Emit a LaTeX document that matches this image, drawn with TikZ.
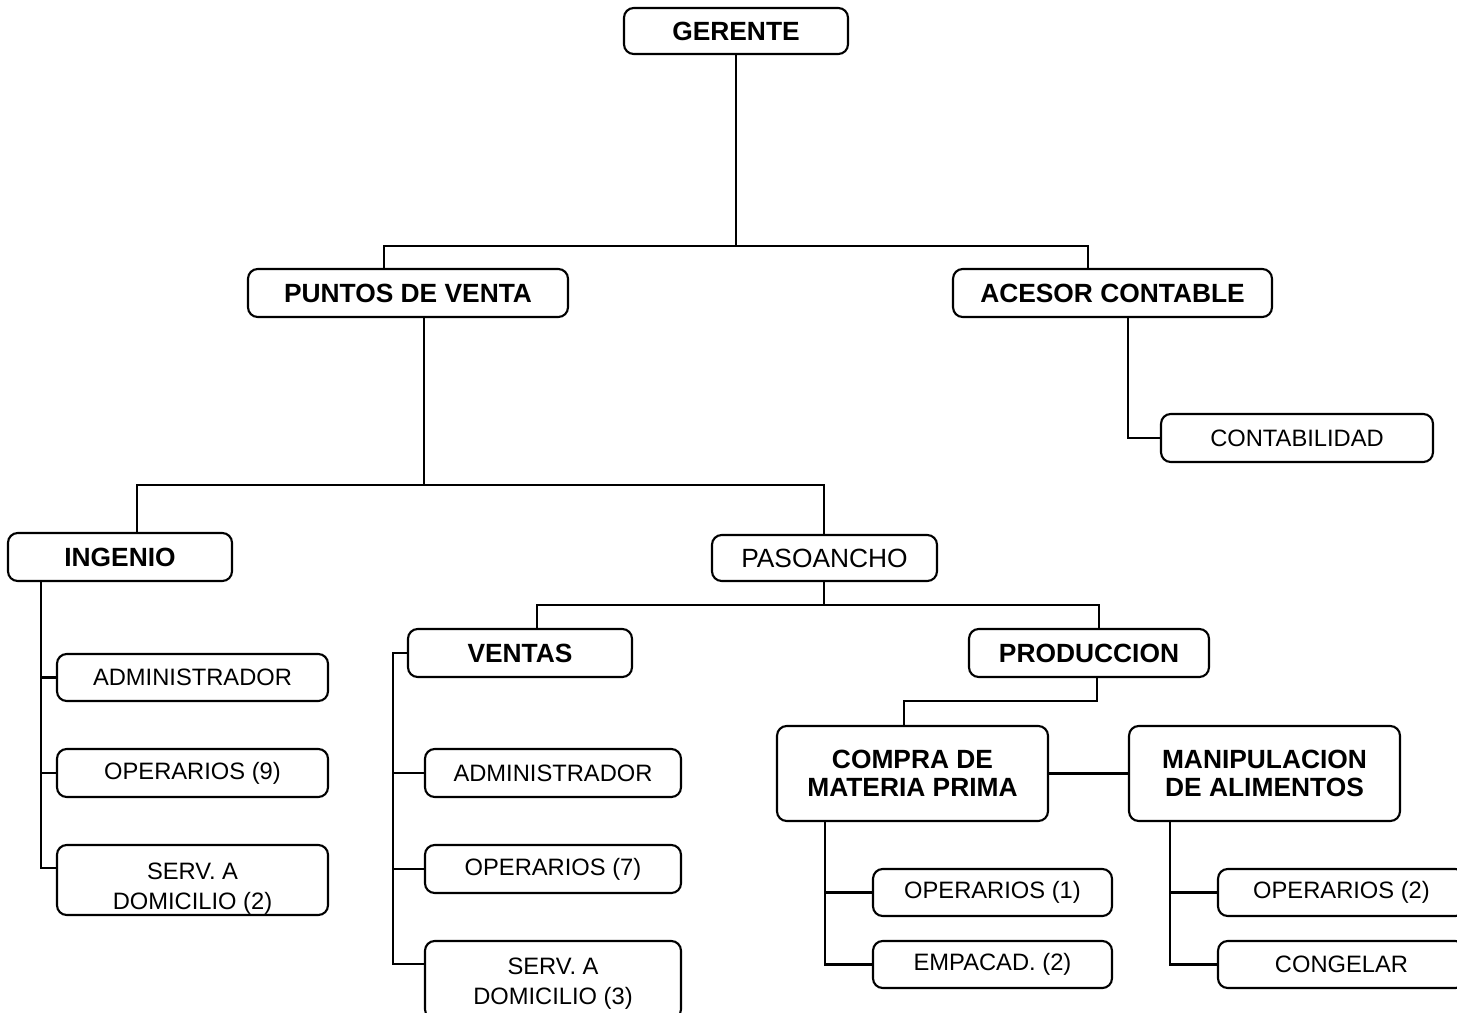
\documentclass[tikz,border=0pt]{standalone}
\usepackage{fontspec}
\setmainfont{Liberation Sans}
\usetikzlibrary{calc}

\begin{document}
\begin{tikzpicture}[x=0.02cm, y=-0.02cm, line width=1.2pt,
  box/.style={draw, rounded corners=5.5pt, line width=1.2pt, align=center, inner sep=0pt},
  headbox/.style={box, font=\fontsize{15}{16}\selectfont\bfseries},
  namebox/.style={box, font=\fontsize{15}{16}\selectfont},
  unitbox/.style={box, font=\fontsize{13.5}{17}\selectfont}]
\useasboundingbox (0,0) rectangle (1457,1012);

\node [headbox, minimum width=4.48cm, minimum height=0.92cm] (gerente) at (736,31) {GERENTE};
\node [headbox, minimum width=6.4cm, minimum height=0.96cm] (puntos) at (408,293) {PUNTOS DE VENTA};
\node [headbox, minimum width=6.38cm, minimum height=0.96cm] (acesor) at (1112.5,293) {ACESOR CONTABLE};
\node [unitbox, minimum width=5.44cm, minimum height=0.96cm] (contab) at (1297,438) {CONTABILIDAD};
\node [headbox, minimum width=4.48cm, minimum height=0.96cm] (ingenio) at (120,557) {INGENIO};
\node [namebox, minimum width=4.5cm, minimum height=0.92cm] (pasoancho) at (824.5,558) {PASOANCHO};

\node [unitbox, minimum width=5.42cm, minimum height=0.94cm] (admA) at (192.5,677.5) {ADMINISTRADOR};
\node [unitbox, minimum width=5.42cm, minimum height=0.96cm] (operA) at (192.5,773) {OPERARIOS (9)};
\node [unitbox, minimum width=5.42cm, minimum height=1.4cm] (servA) at (192.5,880) {\rule{0pt}{19.7pt}SERV. A\\DOMICILIO (2)};

\node [headbox, minimum width=4.48cm, minimum height=0.96cm] (ventas) at (520,653) {VENTAS};
\node [unitbox, minimum width=5.12cm, minimum height=0.96cm] (admB) at (553,773) {ADMINISTRADOR};
\node [unitbox, minimum width=5.12cm, minimum height=0.96cm] (operB) at (553,869) {OPERARIOS (7)};
\node [unitbox, minimum width=5.12cm, minimum height=1.56cm] (servB) at (553,980) {\rule{0pt}{14pt}SERV. A\\DOMICILIO (3)};

\node [headbox, minimum width=4.8cm, minimum height=0.96cm] (produccion) at (1089,653) {PRODUCCION};
\node [headbox, minimum width=5.42cm, minimum height=1.9cm] (compra) at (912.5,773.5) {COMPRA DE\\MATERIA PRIMA};
\node [headbox, minimum width=5.42cm, minimum height=1.9cm] (manip) at (1264.5,773.5) {MANIPULACION\\DE ALIMENTOS};
\node [unitbox, minimum width=4.78cm, minimum height=0.94cm] (operC) at (992.5,892.5) {OPERARIOS (1)};
\node [unitbox, minimum width=4.78cm, minimum height=0.94cm] (empac) at (992.5,964.5) {EMPACAD. (2)};
\node [unitbox, minimum width=4.94cm, minimum height=0.94cm] (operD) at (1341.5,892.5) {OPERARIOS (2)};
\node [unitbox, minimum width=4.94cm, minimum height=0.94cm] (congelar) at (1341.5,964.5) {CONGELAR};

\coordinate (gbus) at (736,246);
\coordinate (pvtap) at (384,246);
\coordinate (actap) at (1088,246);
\draw (gerente.south) -- (gbus);
\draw (pvtap |- puntos.north) -- (pvtap) -- (actap) -- (actap |- acesor.north);

\coordinate (acdrop) at (1128,438);
\draw (acdrop |- acesor.south) -- (acdrop) -- (contab.west);

\coordinate (pvdrop) at (424,485);
\coordinate (ingtap) at (137,485);
\coordinate (patap) at (824,485);
\draw (pvdrop |- puntos.south) -- (pvdrop);
\draw (ingtap |- ingenio.north) -- (ingtap) -- (patap) -- (patap |- pasoancho.north);

\coordinate (ingsp) at (41,0);
\draw (ingsp |- ingenio.south) |- ($(servA.north west)+(0,24)$);
\draw (ingsp |- admA) -- (admA.west);
\draw (ingsp |- operA) -- (operA.west);

\coordinate (pabus) at (824,605);
\coordinate (vetap) at (537,605);
\coordinate (prtop) at (1099,605);
\draw (pabus |- pasoancho.south) -- (pabus);
\draw (vetap |- ventas.north) -- (vetap) -- (prtop) -- (prtop |- produccion.north);

\coordinate (vensp) at (393,0);
\draw (ventas.west) -- (vensp |- ventas.west) |- ($(servB.north west)+(0,24)$);
\draw (vensp |- admB) -- (admB.west);
\draw (vensp |- operB) -- (operB.west);

\coordinate (prtap) at (1097,701);
\coordinate (cmtap) at (904,701);
\draw (prtap |- produccion.south) -- (prtap) -- (cmtap) -- (cmtap |- compra.north);
\draw (compra.east) -- (manip.west);

\coordinate (cmpsp) at (825,0);
\draw (cmpsp |- compra.south) |- (empac.west);
\draw (cmpsp |- operC) -- (operC.west);

\coordinate (mansp) at (1170,0);
\draw (mansp |- manip.south) |- (congelar.west);
\draw (mansp |- operD) -- (operD.west);
\end{tikzpicture}
\end{document}
